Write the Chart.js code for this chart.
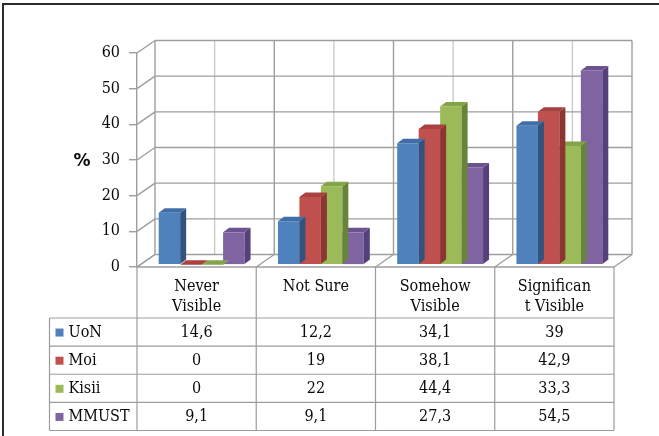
<!DOCTYPE html>
<html>
<head>
<meta charset="utf-8">
<script src="https://cdn.jsdelivr.net/npm/chart.js@4.4.0/dist/chart.umd.min.js"></script>
<style>
  html, body { margin: 0; padding: 0; background: #fff; }
  canvas { display: block; }
</style>
</head>
<body>
<canvas id="chart" width="659" height="436"></canvas>
<script>
// Visibility responses per university (%)
const categories = [['Never', 'Visible'], ['Not Sure'], ['Somehow', 'Visible'], ['Significan', 't Visible']];
const seriesNames = ['UoN', 'Moi', 'Kisii', 'MMUST'];
const uon   = [14.6, 12.2, 34.1, 39];
const moi   = [0, 19, 38.1, 42.9];
const kisii = [0, 22, 44.4, 33.3];
const mmust = [9.1, 9.1, 27.3, 54.5];
const yTicks = [0, 10, 20, 30, 40, 50, 60];
const seriesValues = [uon, moi, kisii, mmust];

// Column face colours: front, side, top
const faceColors = ['#4f81bd', '#c0504d', '#9bbb59', '#8064a2'];
const sideColors = ['#30547f', '#8c3533', '#688438', '#56407a'];
const topColors  = ['#406fa8', '#a9413e', '#84a44a', '#6c5290'];

const FONT = '"DejaVu Serif Condensed", "DejaVu Serif", serif';
const FONT_SIZE = 16;
const TEXT = '#0a0a0a';
const GRID = '#9e9e9e';
const GRID_LIGHT = '#cbcbcb';
const TABLE_LINE = '#9c9c9c';

// Perspective offsets for the walls and the column plane
const WALL_DX = 18, WALL_DY = -12.5;
const BAR_SHIFT_X = 5, BAR_SHIFT_Y = -2.2;
const BAR_DX = 6, BAR_DY = -4.5;

// Data table geometry
const TABLE_LEFT = 49.5;
const HEADER_H = 51;

function line(ctx, x1, y1, x2, y2) {
  ctx.beginPath();
  ctx.moveTo(x1, y1);
  ctx.lineTo(x2, y2);
  ctx.stroke();
}

const fmt = v => String(v).replace('.', ',');

const walls3d = {
  id: 'walls3d',
  beforeDatasetsDraw(chart) {
    const { ctx, chartArea: a, scales: { x, y } } = chart;
    const step = x.getPixelForValue(1) - x.getPixelForValue(0);
    const yTop = y.getPixelForValue(yTicks[yTicks.length - 1]);
    const yBase = y.getPixelForValue(0);
    ctx.save();
    ctx.lineWidth = 1.4;
    // back wall verticals: category edges and centres
    for (let i = 0; i <= categories.length * 2; i++) {
      const fx = a.left + i * step / 2;
      ctx.strokeStyle = i % 2 ? GRID_LIGHT : GRID;
      line(ctx, fx + WALL_DX, yTop + WALL_DY, fx + WALL_DX, yBase + WALL_DY);
    }
    // back wall horizontals and side wall diagonals
    ctx.strokeStyle = GRID;
    yTicks.forEach(v => {
      const fy = y.getPixelForValue(v);
      line(ctx, a.left, fy, a.left + WALL_DX, fy + WALL_DY);
      line(ctx, a.left + WALL_DX, fy + WALL_DY, a.right + WALL_DX, fy + WALL_DY);
    });
    // floor
    line(ctx, a.left, yBase, a.right, yBase);
    for (let i = 0; i <= categories.length; i++) {
      const fx = a.left + i * step;
      line(ctx, fx, yBase, fx + WALL_DX, yBase + WALL_DY);
    }
    ctx.restore();
    // columns sit a little behind the front plane
    ctx.save();
    ctx.translate(BAR_SHIFT_X, BAR_SHIFT_Y);
  },
  afterDatasetDraw(chart, args) {
    const ctx = chart.ctx;
    const i = args.index;
    chart.getDatasetMeta(i).data.forEach(bar => {
      const { x, y, base, width } = bar.getProps(['x', 'y', 'base', 'width'], true);
      const l = x - width / 2, r = x + width / 2;
      ctx.fillStyle = sideColors[i];
      ctx.beginPath();
      ctx.moveTo(r, base);
      ctx.lineTo(r + BAR_DX, base + BAR_DY);
      ctx.lineTo(r + BAR_DX, y + BAR_DY);
      ctx.lineTo(r, y);
      ctx.closePath();
      ctx.fill();
      ctx.fillStyle = topColors[i];
      ctx.beginPath();
      ctx.moveTo(l, y);
      ctx.lineTo(r, y);
      ctx.lineTo(r + BAR_DX, y + BAR_DY);
      ctx.lineTo(l + BAR_DX, y + BAR_DY);
      ctx.closePath();
      ctx.fill();
    });
  },
  afterDatasetsDraw(chart) {
    chart.ctx.restore();
  }
};

const dataTable = {
  id: 'dataTable',
  afterDraw(chart) {
    const { ctx, chartArea: a, scales: { x, y } } = chart;
    const step = x.getPixelForValue(1) - x.getPixelForValue(0);
    const top = a.bottom;
    const headBottom = top + HEADER_H;
    const bottom = x.bottom - 0.5;
    const rowH = (bottom - headBottom) / seriesNames.length;
    ctx.save();
    ctx.strokeStyle = TABLE_LINE;
    ctx.lineWidth = 1.2;
    for (let r = 0; r <= seriesNames.length; r++) {
      const ry = headBottom + r * rowH;
      line(ctx, TABLE_LEFT, ry, a.right, ry);
    }
    for (let i = 0; i <= categories.length; i++) {
      const cx = a.left + i * step;
      line(ctx, cx, top, cx, bottom);
    }
    line(ctx, TABLE_LEFT, headBottom, TABLE_LEFT, bottom);

    ctx.font = FONT_SIZE + 'px ' + FONT;
    ctx.textBaseline = 'middle';
    seriesNames.forEach((name, r) => {
      const cy = headBottom + rowH * (r + 0.5) + 0.5;
      ctx.fillStyle = faceColors[r];
      ctx.fillRect(TABLE_LEFT + 6, cy - 4, 8, 8);
      ctx.fillStyle = TEXT;
      ctx.textAlign = 'left';
      ctx.fillText(name, TABLE_LEFT + 19, cy);
      ctx.textAlign = 'center';
      seriesValues[r].forEach((v, c) => {
        ctx.fillText(fmt(v), x.getPixelForValue(c), cy);
      });
    });

    // axis title
    ctx.font = 'bold 17px "DejaVu Sans", sans-serif';
    ctx.textAlign = 'center';
    ctx.fillText('%', 82, (y.getPixelForValue(30)) + 2);

    // outer frame
    ctx.strokeStyle = '#2b2b2b';
    ctx.lineWidth = 2;
    ctx.beginPath();
    ctx.moveTo(3, 436);
    ctx.lineTo(3, 4);
    ctx.lineTo(659, 4);
    ctx.stroke();
    ctx.restore();
  }
};

new Chart(document.getElementById('chart'), {
  type: 'bar',
  data: {
    labels: categories,
    datasets: seriesNames.map((name, i) => ({
      label: name,
      data: seriesValues[i],
      backgroundColor: faceColors[i],
      borderWidth: 0,
      clip: false
    }))
  },
  options: {
    responsive: false,
    animation: false,
    devicePixelRatio: 1,
    layout: { padding: { left: 50, right: 45, top: 53, bottom: 5 } },
    datasets: { bar: { categoryPercentage: 0.72, barPercentage: 1 } },
    plugins: { legend: { display: false }, tooltip: { enabled: false } },
    scales: {
      x: {
        grid: { display: false, drawTicks: false },
        border: { display: false },
        ticks: {
          padding: 10,
          color: TEXT,
          maxRotation: 0,
          autoSkip: false,
          font: { family: FONT, size: FONT_SIZE, lineHeight: 1.25 }
        },
        afterFit(scale) { scale.height = 164; }
      },
      y: {
        min: 0,
        max: 60,
        ticks: { stepSize: 10, padding: 9, color: TEXT, font: { family: FONT, size: FONT_SIZE } },
        grid: { drawOnChartArea: false, drawTicks: true, tickLength: 8, color: GRID, lineWidth: 1.4 },
        border: { display: true, color: GRID, width: 1.4 },
        afterFit(scale) { scale.width = 87; }
      }
    }
  },
  plugins: [walls3d, dataTable]
});
</script>
</body>
</html>
